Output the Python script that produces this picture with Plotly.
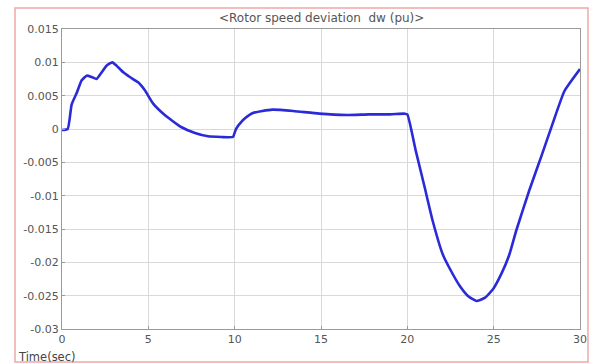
import plotly.graph_objects as go

t = [0.0, 0.33, 0.56, 0.85, 1.14, 1.43, 1.72, 2.0, 2.3, 2.58, 2.91, 3.16, 3.55, 3.93, 4.41, 4.8,
     5.28, 5.95, 6.9, 7.7, 8.46, 9.23, 9.9, 10.02, 10.1, 10.4, 10.6, 11.06, 11.6, 12.2, 13.4, 14.9,
     16.5, 17.8, 19.0, 19.85, 20.0, 20.5, 21.0, 21.47, 22.05, 22.47, 23.05, 23.53, 24.0, 24.5,
     24.97, 25.45, 25.9, 26.3, 27.05, 27.8, 28.4, 29.1, 30.0]
dw = [-0.00015, 0.0, 0.0037, 0.0054, 0.0073, 0.0080, 0.0078, 0.0075, 0.0085, 0.0095, 0.0100,
      0.0095, 0.0085, 0.0078, 0.0070, 0.0058, 0.0038, 0.0021, 0.0003, -0.0006, -0.0011, -0.0012,
      -0.0012, -0.0004, 0.0001, 0.0011, 0.0016, 0.0024, 0.0027, 0.0029, 0.0027, 0.0023, 0.0021,
      0.0022, 0.0022, 0.0023, 0.0022, -0.0034, -0.0087, -0.0138, -0.0188, -0.0210, -0.0236,
      -0.0251, -0.0258, -0.0253, -0.0240, -0.0217, -0.0189, -0.0153, -0.0093, -0.0038, 0.0007,
      0.0057, 0.0090]

x_ticks = [0, 5, 10, 15, 20, 25, 30]
y_ticks = [0.015, 0.01, 0.005, 0, -0.005, -0.01, -0.015, -0.02, -0.025, -0.03]
y_tick_text = ["0.015", "0.01", "0.005", "0", "-0.005", "-0.01", "-0.015", "-0.02", "-0.025", "-0.03"]
title_text = "&lt;Rotor speed deviation  dw (pu)&gt;"
xlabel_text = "Time(sec)"

FONT = "DejaVu Sans, Liberation Sans, Arial"

fig = go.Figure()
fig.add_trace(go.Scatter(x=t, y=dw, mode="lines", line_shape="spline",
                         line=dict(color="#2a2ad8", width=2.6, smoothing=0.45), showlegend=False))

axis_common = dict(showgrid=True, gridcolor="#d9d9d9", gridwidth=1,
                   showline=True, linecolor="#9a9a9a", linewidth=1, mirror=True,
                   ticks="inside", ticklen=3, tickcolor="#9a9a9a",
                   tickfont=dict(family=FONT, size=11, color="#555555"),
                   zeroline=False, automargin=False)

fig.update_xaxes(range=[0, 30], tickvals=x_ticks, **axis_common)
fig.update_yaxes(range=[-0.03, 0.015], tickvals=y_ticks, ticktext=y_tick_text, **axis_common)

fig.update_layout(
    width=590, height=364,
    margin=dict(l=62, r=10, t=29, b=35),
    paper_bgcolor="white", plot_bgcolor="white",
    annotations=[
        dict(text=title_text, xref="paper", yref="paper", x=0.5, y=1.0, yshift=11,
             showarrow=False, xanchor="center", yanchor="middle",
             font=dict(family=FONT, size=12, color="#555555")),
        dict(text=xlabel_text, xref="paper", yref="paper", x=-0.089, y=-0.092,
             showarrow=False, xanchor="left", yanchor="middle",
             font=dict(family=FONT, size=11.5, color="#444444")),
    ],
    shapes=[
        dict(type="rect", xref="paper", yref="paper", x0=-0.0907, x1=1.0154, y0=-0.11, y1=1.07,
             line=dict(color="#f0a8a8", width=1.5), fillcolor="rgba(0,0,0,0)", layer="below"),
    ],
)

fig.write_html("out.html")
